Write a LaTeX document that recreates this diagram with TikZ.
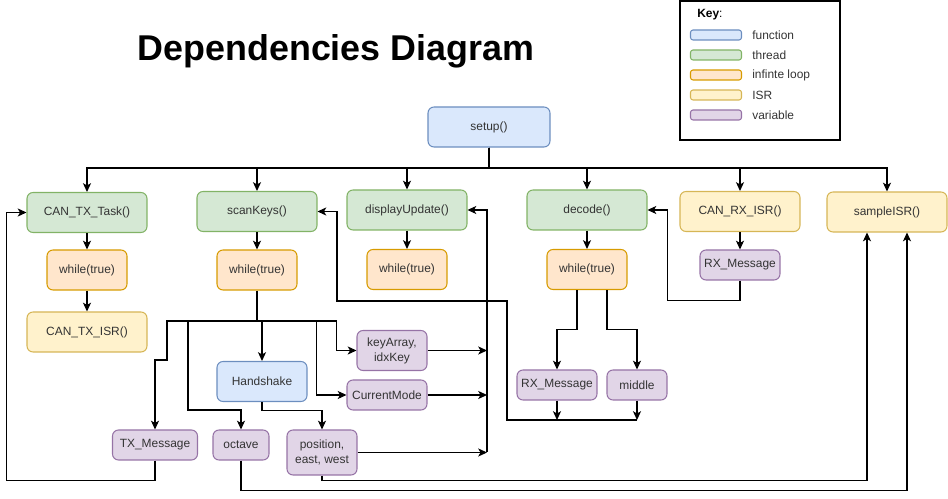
\documentclass[tikz,border=0pt]{standalone}
\usepackage{fontspec}
\setmainfont{Liberation Sans}
\usetikzlibrary{arrows.meta}

\definecolor{fnfill}{HTML}{DAE8FC}
\definecolor{fnline}{HTML}{6C8EBF}
\definecolor{thfill}{HTML}{D5E8D4}
\definecolor{thline}{HTML}{82B366}
\definecolor{lpfill}{HTML}{FFE6CC}
\definecolor{lpline}{HTML}{D79B00}
\definecolor{isfill}{HTML}{FFF2CC}
\definecolor{isline}{HTML}{D6B656}
\definecolor{vrfill}{HTML}{E1D5E7}
\definecolor{vrline}{HTML}{9673A6}

\tikzset{
    >={Stealth[length=5pt,width=4.6pt,inset=1.3pt]},
    link/.style={line width=0.6pt},
    basebox/.style={rounded corners=0.12cm, line width=0.6pt, align=center,
        font=\fontsize{6.8}{8.5}\selectfont, text=black!80, inner sep=1pt},
    fnbox/.style={basebox, fill=fnfill, draw=fnline},
    threadbox/.style={basebox, fill=thfill, draw=thline, minimum width=2.4cm, minimum height=0.8cm},
    loopbox/.style={basebox, fill=lpfill, draw=lpline, minimum width=1.6cm, minimum height=0.8cm},
    isrbox/.style={basebox, fill=isfill, draw=isline, minimum width=2.4cm, minimum height=0.8cm},
    varbox/.style={basebox, fill=vrfill, draw=vrline, minimum height=0.6cm},
}

\begin{document}
\begin{tikzpicture}[x=0.02cm, y=-0.02cm]
    \useasboundingbox (0,0) rectangle (948,499);

    % Title
    \node[anchor=base, font=\bfseries\fontsize{20.4}{24}\selectfont] (title) at (336,61) {Dependencies Diagram};

    % Key
    \node[draw, line width=0.6pt, minimum width=3.2cm, minimum height=2.78cm] (key) at (760,70.5) {};
    \node[anchor=west, basebox, text=black] (keyhead) at (695,15) {\textbf{Key}:};
    \foreach \sty/\lbl [count=\i] in {fnbox/function, threadbox/thread, loopbox/infinte loop, isrbox/ISR, varbox/variable} {
        \node[\sty, minimum width=1.02cm, minimum height=0.2cm, rounded corners=0.05cm] (sw\i) at (716,15+20*\i) {};
        \node[anchor=west, basebox] (kl\i) at (750,15+20*\i) {\lbl};
    }

    % Setup and threads
    \node[fnbox, minimum width=2.44cm, minimum height=0.8cm] (setup) at (489,127) {setup()};
    \node[threadbox] (txtask) at (87,212.5) {CAN\_TX\_Task()};
    \node[loopbox] (txloop) at (87,270) {while(true)};
    \node[isrbox] (txisr) at (87,332) {CAN\_TX\_ISR()};
    \node[threadbox] (scan) at (257,211.5) {scanKeys()};
    \node[loopbox] (scanloop) at (257,270) {while(true)};
    \node[threadbox] (disp) at (407,210) {displayUpdate()};
    \node[loopbox] (disploop) at (407,269.5) {while(true)};
    \node[threadbox] (decode) at (587,210) {decode()};
    \node[loopbox] (decloop) at (587,269.5) {while(true)};
    \node[isrbox] (rxisr) at (740,211.5) {CAN\_RX\_ISR()};
    \node[varbox, minimum width=1.6cm] (rxmsg) at (740,265) {RX\_Message};
    \node[isrbox] (sample) at (887,212) {sampleISR()};

    % Variables under scanKeys
    \node[fnbox, minimum width=1.8cm, minimum height=0.8cm] (hshake) at (262,381.5) {Handshake};
    \node[varbox, minimum width=1.7cm] (txmsg) at (155,445) {TX\_Message};
    \node[varbox, minimum width=1.12cm] (octave) at (241,445) {octave};
    \node[varbox, minimum width=1.4cm, minimum height=0.9cm] (pos) at (322,452.5) {position,\\east, west};
    \node[varbox, minimum width=1.4cm, minimum height=0.8cm] (keyarr) at (392,350.5) {keyArray,\\idxKey};
    \node[varbox, minimum width=1.6cm] (mode) at (387,395) {CurrentMode};

    % Variables under decode
    \node[varbox, minimum width=1.6cm] (rxmsgb) at (557,385) {RX\_Message};
    \node[varbox, minimum width=1.2cm] (middle) at (637,385) {middle};

    % setup starts everything
    \coordinate (setupbus) at (489,168);
    \foreach \n in {txtask, scan, disp, decode, rxisr, sample}
        \draw[link, ->] (setup.south) -- (setupbus) -| (\n.north);

    % thread bodies
    \draw[link, ->] (txtask) -- (txloop);
    \draw[link, ->] (txloop) -- (txisr);
    \draw[link, ->] (scan) -- (scanloop);
    \draw[link, ->] (disp) -- (disploop);
    \draw[link, ->] (decode) -- (decloop);
    \draw[link, ->] (rxisr) -- (rxmsg);

    % scanKeys writes
    \coordinate (scanbus) at (257,321);
    \draw[link] (scanloop.south) -- (scanbus);
    \draw[link, ->] (scanbus) -| (167,360) -| (txmsg.north);
    \draw[link, ->] (scanbus) -| (188,410) -| (octave.north);
    \draw[link, ->] (scanbus) -| (hshake.north);
    \draw[link, ->] (scanbus) -| ([xshift=-0.6cm]mode.west) -- (mode.west);
    \draw[link, ->] (scanbus) -| ([xshift=-0.4cm]keyarr.west) -- (keyarr.west);
    \draw[link, ->] (hshake.south) -- ++(0,8.5) -| (pos.north);

    % displayUpdate reads
    \coordinate (dispbus) at (487,452.5);
    \draw[link, ->] (keyarr.east) -- (keyarr.east -| dispbus);
    \draw[link, ->] (mode.east) -- (mode.east -| dispbus);
    \draw[link, ->] (pos.east) -- (dispbus);
    \draw[link, ->] (dispbus) |- (disp.east);

    % decode writes
    \draw[link, ->] ([xshift=-0.2cm]decloop.south) |- ([yshift=0.8cm]rxmsgb.north) -- (rxmsgb.north);
    \draw[link, ->] ([xshift=0.4cm]decloop.south) |- ([yshift=0.8cm]middle.north) -- (middle.north);

    % back to scanKeys
    \coordinate (rxbus) at (507,420);
    \draw[link, ->] (rxmsgb.south) -- (rxmsgb.south |- rxbus);
    \draw[link, ->] (middle.south) -- (middle.south |- rxbus);
    \draw[link, ->] (middle.south |- rxbus) -- (rxbus) |- (337,301) |- (scan.east);

    % CAN receive and transmit
    \draw[link, ->] (rxmsg.south) -- ++(0,20) -| ([xshift=0.4cm]decode.east) -- (decode.east);
    \draw[link, ->] (txmsg.south) -- ++(0,20) -| ([xshift=-0.4cm]txtask.west) -- (txtask.west);

    % sampleISR inputs
    \draw[link, ->] (octave.south) -- ++(0,30) -| ([xshift=0.4cm]sample.south);
    \draw[link, ->] (pos.south) -- ++(0,5) -| ([xshift=-0.4cm]sample.south);
\end{tikzpicture}
\end{document}
